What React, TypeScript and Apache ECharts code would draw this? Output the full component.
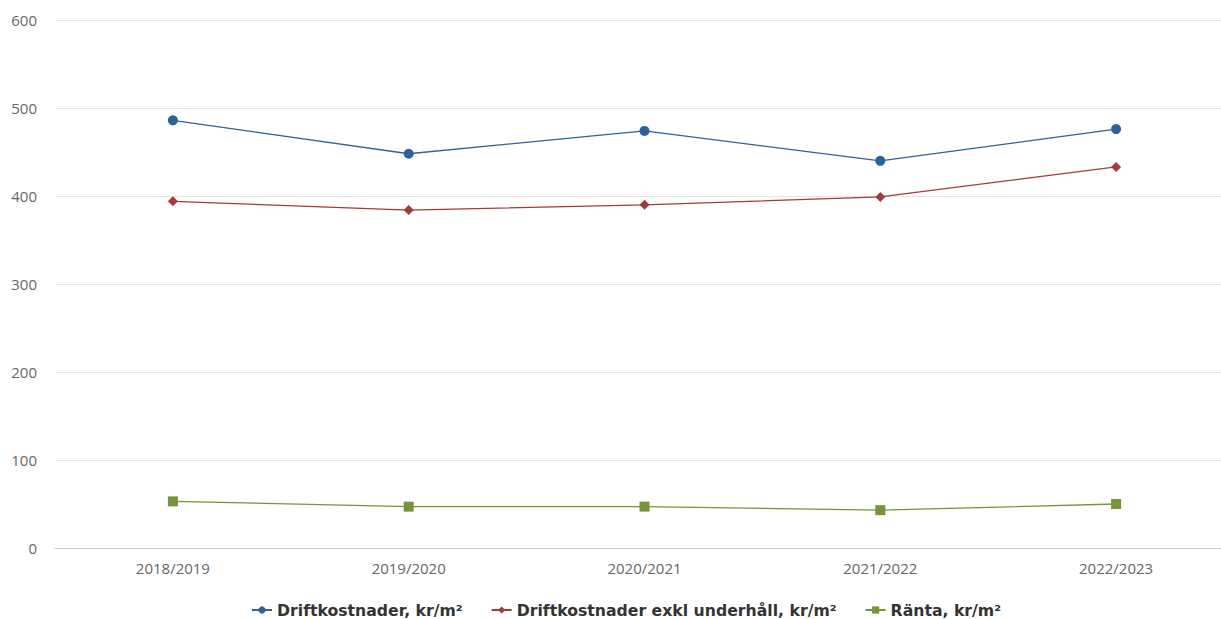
import React, { useEffect, useRef } from "react";
import * as echarts from "echarts";

const categories = ["2018/2019", "2019/2020", "2020/2021", "2021/2022", "2022/2023"];
const drift = [486, 448, 474, 440, 476];
const driftExkl = [394, 384, 390, 399, 433];
const ranta = [53, 47, 47, 43, 50];
const yTicks = [0, 600, 100];

export default function App() {
  const ref = useRef<HTMLDivElement>(null);
  useEffect(() => {
    const chart = echarts.init(ref.current!, null, { renderer: "svg" });
    const lbl = { color: "#666", fontSize: 15, fontFamily: "Open Sans" };
    chart.setOption({
      animation: false,
      grid: { left: 55, right: 0, top: 20, bottom: 71, containLabel: false },
      legend: {
        top: 597,
        left: 246,
        itemGap: 28,
        itemWidth: 20,
        itemHeight: 9,
        textStyle: { color: "#333", fontSize: 15.7, fontWeight: "bold", fontFamily: "DejaVu Sans" },
        data: [
          { name: "Driftkostnader, kr/m²" },
          { name: "Driftkostnader exkl underhåll, kr/m²" },
          { name: "Ränta, kr/m²" },
        ],
      },
      xAxis: {
        type: "category",
        data: categories,
        boundaryGap: true,
        axisLine: { lineStyle: { color: "#c0d0e0" } },
        axisTick: { show: false },
        axisLabel: { ...lbl, margin: 12 },
      },
      yAxis: {
        type: "value",
        min: yTicks[0],
        max: yTicks[1],
        interval: yTicks[2],
        axisLine: { show: false },
        axisTick: { show: false },
        splitLine: { lineStyle: { color: "#e6e6e6" } },
        axisLabel: { ...lbl, margin: 18 },
      },
      series: [
        {
          name: "Driftkostnader, kr/m²",
          type: "line",
          data: drift,
          color: "#2f6197",
          symbol: "circle",
          symbolSize: 10,
          lineStyle: { width: 1.3 },
        },
        {
          name: "Driftkostnader exkl underhåll, kr/m²",
          type: "line",
          data: driftExkl,
          color: "#a23b3b",
          symbol: "diamond",
          symbolSize: 10,
          lineStyle: { width: 1.3 },
        },
        {
          name: "Ränta, kr/m²",
          type: "line",
          data: ranta,
          color: "#77933c",
          symbol: "rect",
          symbolSize: 10,
          lineStyle: { width: 1.3 },
        },
      ],
    });
    return () => chart.dispose();
  }, []);
  return (
    <div style={{ position: "fixed", left: 0, top: 0, width: 1221, height: 619, background: "#fff", overflow: "hidden" }}>
      <div ref={ref} style={{ width: 1234, height: 619 }} />
    </div>
  );
}
